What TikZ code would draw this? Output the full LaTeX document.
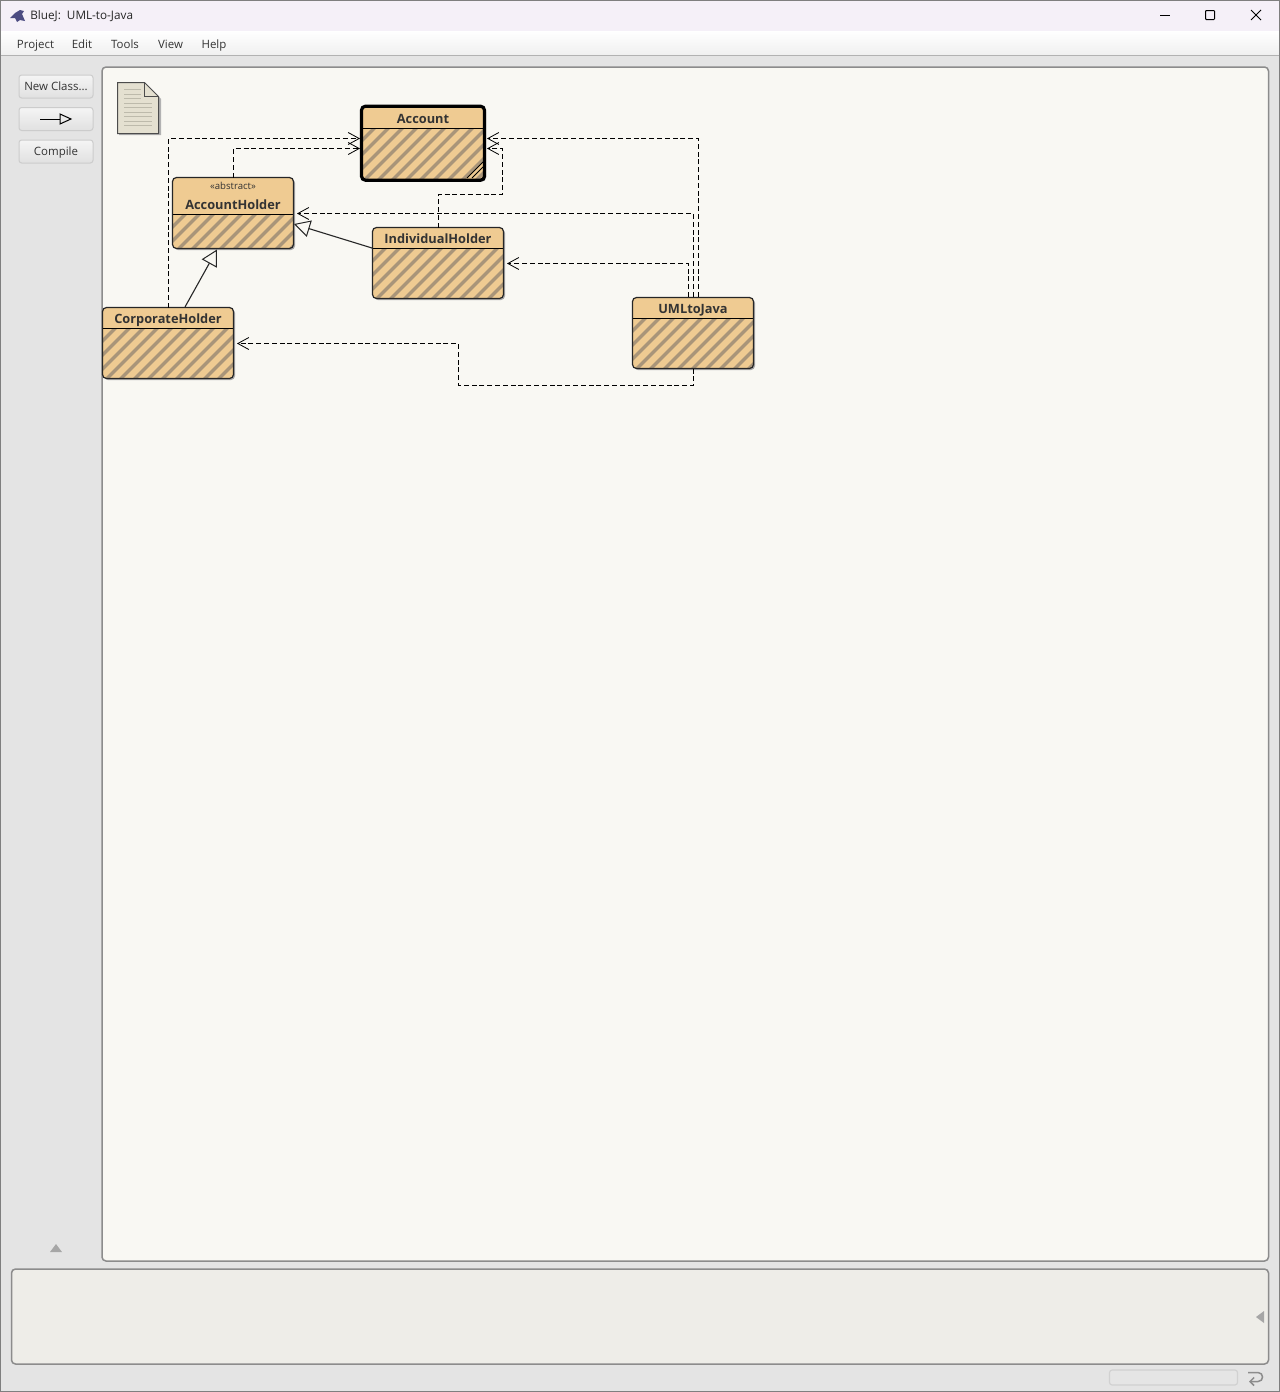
\documentclass[tikz,border=0pt]{standalone}
\usepackage{fontspec}
\setmainfont{Open Sans}
\usetikzlibrary{arrows.meta}

\definecolor{framecolor}{HTML}{7F7F7F}
\definecolor{titlecolor}{HTML}{F5F0F8}
\definecolor{windowcolor}{HTML}{E4E4E4}
\definecolor{canvascolor}{HTML}{F9F8F3}
\definecolor{messagecolor}{HTML}{EEEDE8}
\definecolor{panelline}{HTML}{8C8C8C}
\definecolor{headcolor}{HTML}{EFCB92}
\definecolor{hatchcolor}{HTML}{A99579}
\definecolor{notecolor}{HTML}{E4E0D0}
\definecolor{noteline}{HTML}{BDBAAB}
\definecolor{labelcolor}{HTML}{333333}

\def\unitpx{0.75pt}

\tikzset{
    panel/.style = {
        draw=panelline,
        line width=1.5*\unitpx,
        rounded corners=3pt,
    },
    menu entry/.style = {
        text=labelcolor,
        font=\fontsize{8.6}{11}\selectfont,
        text height=6.2pt,
        text depth=0pt,
        inner sep=0,
    },
    tool button/.style = {
        draw=black!20,
        line width=\unitpx,
        rounded corners=2pt,
        top color=black!4,
        bottom color=black!12,
        text=labelcolor,
        font=\fontsize{8.6}{11}\selectfont,
        text height=6.2pt,
        text depth=0pt,
        inner sep=0,
        minimum width=74*\unitpx,
        minimum height=23*\unitpx,
    },
    classbox/.style = {
        fill=headcolor,
        rounded corners=3pt,
        inner sep=0,
        outer sep=0,
    },
    class label/.style = {
        text=labelcolor,
        font=\fontsize{9.6}{11}\selectfont\bfseries,
        text height=6.9pt,
        text depth=0pt,
        inner sep=0,
    },
    thin border/.style = {
        draw=black!85,
        line width=1.2*\unitpx,
    },
    thick border/.style = {
        draw=black,
        line width=3.2*\unitpx,
    },
    dep line/.style = {
        draw=black,
        line width=\unitpx,
        dash pattern=on 5*\unitpx off 2.8*\unitpx,
        -{Straight Barb[length=11*\unitpx, width=12*\unitpx, line width=0.8*\unitpx]},
    },
    inherit line/.style = {
        draw=black!85,
        line width=1.1*\unitpx,
        -{Triangle[open, fill=canvascolor, length=16*\unitpx, width=17*\unitpx, line width=1*\unitpx]},
    },
}

\begin{document}
\begin{tikzpicture}[x=\unitpx, y=-\unitpx]

    % window
    \useasboundingbox (0,0) rectangle (1280,1392);
    \fill[windowcolor] (0,0) rectangle (1280,1392);
    \fill[titlecolor] (0,0) rectangle (1280,31);
    \shade[top color=white, bottom color=black!6] (0,31) rectangle (1280,55);
    \draw[black!30, line width=1.2*\unitpx] (0,55.5) -- (1280,55.5);
    \draw[framecolor, line width=2*\unitpx] (0,0) rectangle (1280,1392);

    % title bar
    \fill[black!70!blue!70] (10,18) -- (15,13) -- (20,10) -- (24,11) -- (22,14) -- (25,21)
        -- (20,20) -- (17,22) -- (15,18) -- cycle;
    \node[menu entry, anchor=west, text=black!85, font=\fontsize{8.8}{11}\selectfont] (title) at (30,15.8) {BlueJ:\ \ UML-to-Java};
    \draw[black, line width=\unitpx] (1160,15) -- (1170,15);
    \draw[black, line width=\unitpx, rounded corners=0.6pt] (1205.5,10.5) rectangle (1214.5,19.5);
    \draw[black, line width=\unitpx] (1251,10) -- (1261,20) (1261,10) -- (1251,20);

    % menu
    \foreach \a/\x [count=\n] in {
        Project/35.5,
        Edit/82,
        Tools/125,
        View/170.5,
        Help/214%
    } {
        \node[menu entry] (menu-\n) at (\x,44) {\a};
    }

    % panels
    \draw[panel, fill=canvascolor] (102,67) rectangle (1268.5,1261);
    \draw[panel, fill=messagecolor] (11.5,1269) rectangle (1268.5,1364);
    \draw[black!18, line width=1.2*\unitpx, rounded corners=2pt, fill=black!10] (1109.5,1370) rectangle (1237.5,1385);

    % small marks
    \fill[black!35] (56,1244) -- (62,1252) -- (50,1252) -- cycle;
    \fill[black!35] (1264,1311) -- (1264,1323) -- (1256,1317) -- cycle;
    \draw[black!45, line width=1.5*\unitpx, -{Straight Barb[length=4*\unitpx, width=8*\unitpx]}]
        (1248,1372.5) -- (1258,1372.5) .. controls (1264,1372.5) and (1264,1381.5) .. (1258,1381.5) -- (1249,1381.5);

    % tool buttons
    \node[tool button] (new class) at (56,86.5) {New Class...};
    \node[tool button] (new arrow) at (56,119) {};
    \node[tool button] (compile) at (56,151.5) {Compile};
    \draw[black, line width=\unitpx] (40,119) -- (60,119);
    \draw[black, line width=\unitpx] (60,114) -- (71,119) -- (60,124) -- cycle;

    % readme note
    \fill[black!30] (119,84) -- (146,84) -- (161,99) -- (161,135) -- (119,135) -- cycle;
    \draw[black!70, line width=\unitpx, fill=notecolor] (117.5,82.5) -- (144.5,82.5) -- (158.5,96.5)
        -- (158.5,133.5) -- (117.5,133.5) -- cycle;
    \draw[black!70, line width=\unitpx] (144.5,82.5) -- (144.5,96.5) -- (158.5,96.5);
    \foreach \y in {89.5,94,98.5} {
        \draw[noteline, line width=\unitpx] (124,\y) -- (141,\y);
    }
    \foreach \y in {103,107.5,112,116.5,121,125.5} {
        \draw[noteline, line width=\unitpx] (124,\y) -- (152,\y);
    }

    % classes
    \foreach \cname/\cx/\cy/\bw/\bh/\sy/\bstyle in {
        Account/423/143.2/123/74/128.5/thick border,
        AccountHolder/233/213/121/71/214.5/thin border,
        IndividualHolder/438/263/131/71/248.5/thin border,
        CorporateHolder/168/343/131/71/328.5/thin border,
        UMLtoJava/693/333/121/71/318.5/thin border%
    } {
        \fill[black!35, rounded corners=3pt, xshift=1.5*\unitpx, yshift=-1.5*\unitpx]
            (\cx-\bw/2,\cy-\bh/2) rectangle (\cx+\bw/2,\cy+\bh/2);
        \node[classbox, minimum width=\bw*\unitpx, minimum height=\bh*\unitpx] (\cname) at (\cx,\cy) {};
        \coordinate (\cname-split) at (\cx,\sy);
        \begin{scope}
            \clip[rounded corners=3pt] (\cname.south west) rectangle (\cname.north east);
            \clip (0,\sy) rectangle (1280,400);
            \foreach \hs in {-1,0,...,14} {
                \draw[hatchcolor, line width=3.4*\unitpx]
                    (\cx-\bw/2+12.5+14*\hs-60,\sy+60) -- (\cx-\bw/2+12.5+14*\hs+5,\sy-5);
            }
        \end{scope}
        \draw[black, line width=\unitpx] (\cname-split -| \cname.west) -- (\cname-split -| \cname.east);
        \draw[\bstyle, rounded corners=3pt] (\cname.south west) rectangle (\cname.north east);
    }

    % class names
    \foreach \cname/\cx/\ly in {
        Account/423/118.5,
        AccountHolder/233/204.5,
        IndividualHolder/438/238.5,
        CorporateHolder/168/318.5,
        UMLtoJava/693/308.5%
    } {
        \node[class label] (\cname-label) at (\cx,\ly) {\cname};
    }
    \node[menu entry, font=\fontsize{7.2}{9}\selectfont, text height=5.2pt] (AccountHolder-stereo) at (233,186.5) {«abstract»};

    % resize mark
    \draw[black, line width=\unitpx] (467,178) -- (483,162) (472,178) -- (483,167);

    % connector ends
    \coordinate (Account-left1) at (360,138.5);
    \coordinate (Account-left2) at (360,148.5);
    \coordinate (Account-right1) at (487,138.5);
    \coordinate (Account-right2) at (487,148.5);
    \coordinate (Individual-bend) at (502.5,194.5);
    \coordinate (AccountHolder-in) at (297,213.5);
    \coordinate (Individual-in) at (507,263.5);
    \coordinate (Corporate-in) at (237,343.5);
    \coordinate (UML-out1) at (698.5,297);
    \coordinate (UML-out2) at (693.5,297);
    \coordinate (UML-out3) at (688.5,297);
    \coordinate (UML-low) at (693.5,385.5);
    \coordinate (UML-turn) at (458.5,385.5);
    \coordinate (Corporate-out) at (185,307);
    \coordinate (AccountHolder-under) at (217,249.5);
    \coordinate (Individual-out) at (372,248);
    \coordinate (AccountHolder-side) at (294,224);

    % uses
    \draw[dep line] ([xshift=0.5*\unitpx]CorporateHolder.north) |- (Account-left1);
    \draw[dep line] ([xshift=0.5*\unitpx]AccountHolder.north) |- (Account-left2);
    \draw[dep line] ([xshift=0.5*\unitpx]IndividualHolder.north) |- (Individual-bend) |- (Account-right2);
    \draw[dep line] (UML-out1) |- (Account-right1);
    \draw[dep line] (UML-out2) |- (AccountHolder-in);
    \draw[dep line] (UML-out3) |- (Individual-in);
    \draw[dep line] (UMLtoJava.south -| UML-low) -- (UML-low) -- (UML-turn) |- (Corporate-in);

    % extends
    \draw[inherit line] (Corporate-out) -- (AccountHolder-under);
    \draw[inherit line] (Individual-out) -- (AccountHolder-side);

\end{tikzpicture}
\end{document}
